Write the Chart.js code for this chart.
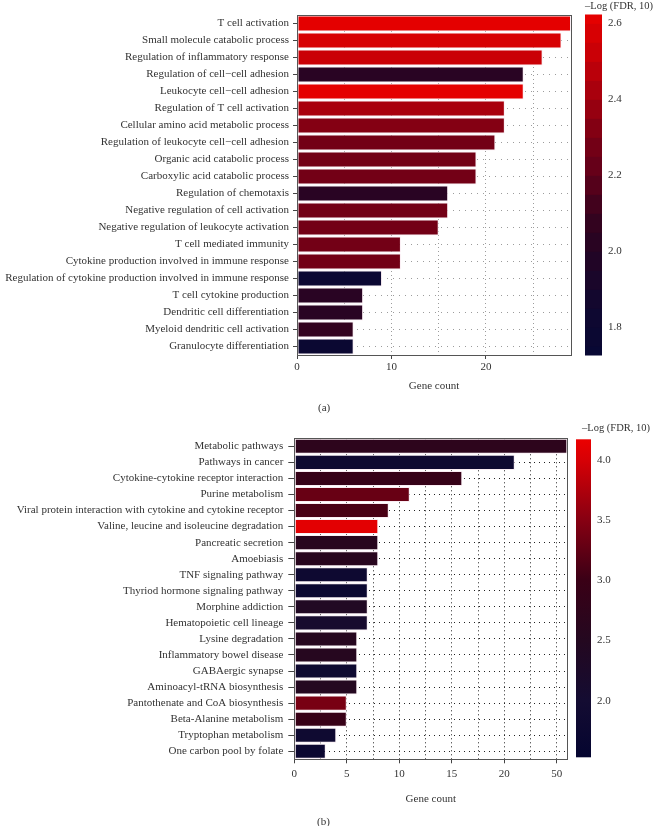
<!DOCTYPE html>
<html><head><meta charset="utf-8">
<script src="https://cdn.jsdelivr.net/npm/chart.js@4.4.1/dist/chart.umd.min.js"></script>
<style>
html,body{margin:0;padding:0;background:#fff;}
#wrap{position:relative;width:654px;height:826px;overflow:hidden;font-family:'Liberation Serif',serif;color:#333;}
canvas{position:absolute;}
.cap{position:absolute;font-size:10.5px;line-height:12px;color:#333;white-space:nowrap;}
</style></head><body><div id="wrap">
<canvas id="ca" width="575" height="400" style="left:0;top:0;width:575px;height:400px"></canvas>
<canvas id="cba" width="69" height="380" style="left:585px;top:0;width:69px;height:380px"></canvas>
<canvas id="cb" width="572" height="400" style="left:0;top:410px;width:572px;height:400px"></canvas>
<canvas id="cbb" width="78" height="380" style="left:576px;top:410px;width:78px;height:380px"></canvas>
<div class="cap" style="left:585px;top:0px;">–Log (FDR, 10)</div>
<div class="cap" style="left:582px;top:422px;">–Log (FDR, 10)</div>
<div class="cap" style="left:318px;top:401px;font-size:11px;">(a)</div>
<div class="cap" style="left:317px;top:815px;font-size:11px;">(b)</div>
</div>
<script>
// ---------- Panel (a): GO terms ----------
const categoriesA = [
  "T cell activation",
  "Small molecule catabolic process",
  "Regulation of inflammatory response",
  "Regulation of cell\u2212cell adhesion",
  "Leukocyte cell\u2212cell adhesion",
  "Regulation of T cell activation",
  "Cellular amino acid metabolic process",
  "Regulation of leukocyte cell\u2212cell adhesion",
  "Organic acid catabolic process",
  "Carboxylic acid catabolic process",
  "Regulation of chemotaxis",
  "Negative regulation of cell activation",
  "Negative regulation of leukocyte activation",
  "T cell mediated immunity",
  "Cytokine production involved in immune response",
  "Regulation of cytokine production involved in immune response",
  "T cell cytokine production",
  "Dendritic cell differentiation",
  "Myeloid dendritic cell activation",
  "Granulocyte differentiation"
];
const geneCountA = [29,28,26,24,24,22,22,21,19,19,16,16,15,11,11,9,7,7,6,6];
const logFdrA    = [2.60,2.58,2.52,2.02,2.60,2.42,2.34,2.28,2.30,2.30,2.00,2.30,2.30,2.30,2.30,1.78,2.05,2.05,2.08,1.78];
const xTickLabelsA = [0,10,20];
const xGridA = [0,5,10,15,20,25];
const colorTicksA = [1.8,2.0,2.2,2.4,2.6];
const colorRangeA = [1.727,2.622];

// ---------- Panel (b): KEGG pathways ----------
const categoriesB = [
  "Metabolic pathways",
  "Pathways in cancer",
  "Cytokine-cytokine receptor interaction",
  "Purine metabolism",
  "Viral protein interaction with cytokine and cytokine receptor",
  "Valine, leucine and isoleucine degradation",
  "Pancreatic secretion",
  "Amoebiasis",
  "TNF signaling pathway",
  "Thyriod hormone signaling pathway",
  "Morphine addiction",
  "Hematopoietic cell lineage",
  "Lysine degradation",
  "Inflammatory bowel disease",
  "GABAergic synapse",
  "Aminoacyl-tRNA biosynthesis",
  "Pantothenate and CoA biosynthesis",
  "Beta-Alanine metabolism",
  "Tryptophan metabolism",
  "One carbon pool by folate"
];
const geneCountB = [51,21,16,11,9,8,8,8,7,7,7,7,6,6,6,6,5,5,4,3];
const logFdrB    = [2.70,1.85,2.90,3.30,3.10,4.10,2.60,2.60,1.80,1.75,2.40,2.10,2.55,2.55,1.85,2.50,3.40,2.95,1.85,1.75];
const xTickValuesB = [0,5,10,15,20,50];
const colorTicksB = [2.0,2.5,3.0,3.5,4.0];
const colorRangeB = [1.53,4.17];

// broken x axis of panel (b): values from 50 upward are drawn 25 units lower
const BREAK_SHIFT = 25;
const toAxisB = v => v >= 50 ? v - BREAK_SHIFT : v;
const fromAxisB = p => p >= 25 ? p + BREAK_SHIFT : p;

// ---------- colour maps ----------
const stopsA = [[1.727,[8,8,52]],[1.85,[16,8,48]],[2.0,[36,5,36]],[2.1,[56,2,30]],[2.2,[95,0,26]],[2.3,[122,0,20]],[2.4,[160,0,15]],[2.5,[195,0,8]],[2.622,[228,0,0]]];
const stopsB = [[1.53,[5,5,48]],[2.0,[20,12,50]],[2.5,[36,8,32]],[3.0,[58,0,22]],[3.5,[135,0,18]],[4.0,[215,0,5]],[4.17,[235,0,0]]];
function interp(stops, v){
  if (v <= stops[0][0]) return stops[0][1];
  for (let i=1;i<stops.length;i++){
    if (v <= stops[i][0]){
      const [a,ca]=stops[i-1],[b,cb]=stops[i];const t=(v-a)/(b-a);
      return ca.map((c,k)=>Math.round(c+(cb[k]-c)*t));
    }
  }
  return stops[stops.length-1][1];
}
const rgb = c => `rgb(${c[0]},${c[1]},${c[2]})`;
const BAND = 0.05;
const colorA = v => { const lo=Math.floor(v/BAND)*BAND; return rgb(interp(stopsA, lo+BAND/2)); };
const colorB = v => rgb(interp(stopsB, v));

const FONT = {family:"'Liberation Serif', 'Times New Roman', serif", size:11};
const TXT = '#333';

const framePlugin = {id:'frame', afterDatasetsDraw(chart){
  const {ctx, chartArea:a} = chart; ctx.save(); ctx.strokeStyle='#555'; ctx.lineWidth=1;
  ctx.strokeRect(Math.round(a.left)+0.5, Math.round(a.top)+0.5, Math.round(a.right-a.left), Math.round(a.bottom-a.top)); ctx.restore();
}};

function barChart(id, cats, vals, fdr, colorFn, opt){
  return new Chart(document.getElementById(id), {
    type:'bar',
    data:{labels:cats, datasets:[{data:vals, backgroundColor:fdr.map(colorFn), borderColor:'rgba(250,236,242,0.95)', borderWidth:1, borderSkipped:false, barPercentage:0.94, categoryPercentage:1}]},
    options:{
      indexAxis:'y', responsive:false, animation:false, devicePixelRatio:1,
      layout:{padding:opt.padding},
      plugins:{legend:{display:false}, tooltip:{enabled:false}},
      scales:{
        x:{min:0, max:opt.xmax,
          afterBuildTicks:s=>{s.ticks = opt.xGrid.map(v=>({value:v}));},
          ticks:{autoSkip:false, maxRotation:0, font:FONT, color:TXT, padding:opt.xPad, callback:opt.xLabel},
          grid:{color:opt.gridColor, lineWidth:1, tickLength:4, tickColor:c=> (c.tick && opt.xLabel(c.tick.value)!=='') ? '#444':'rgba(0,0,0,0)'},
          border:{display:false, dash:opt.xDash},
          title:{display:true, text:'Gene count', font:FONT, color:TXT, padding:{top:4,bottom:opt.titleBottom}},
          afterFit:s=>{s.height = opt.xHeight;}
        },
        y:{ticks:{autoSkip:false, font:FONT, color:TXT, padding:opt.yPad},
          grid:{offset:false, color:opt.gridColor, lineWidth:1, tickLength:opt.yTick, tickColor:'#444'},
          border:{display:false, dash:opt.yDash},
          afterFit:s=>{s.width = opt.yWidth;}
        }
      }
    },
    plugins:[framePlugin]
  });
}

barChart('ca', categoriesA, geneCountA, logFdrA, colorA, {
  padding:{top:15,right:4,left:0,bottom:0}, xmax:29, xGrid:xGridA,
  xLabel:v=> xTickLabelsA.includes(v) ? String(v) : '',
  xPad:2, gridColor:'#9c9c9c', xDash:[1,3], yDash:[1,5], xHeight:45, titleBottom:7.5, yPad:4, yTick:4, yWidth:297
});

const xGridB = [0,2.5,5,7.5,10,12.5,15,17.5,20,22.5,25];
barChart('cb', categoriesB, geneCountB.map(toAxisB), logFdrB, colorB, {
  padding:{top:28.3,right:4.7,left:0,bottom:0}, xmax:toAxisB(51), xGrid:xGridB,
  xLabel:v=> xTickValuesB.includes(fromAxisB(v)) ? String(fromAxisB(v)) : '',
  xPad:4, gridColor:'#222', xDash:[1,3], yDash:[1,4], xHeight:50.7, titleBottom:4, yPad:5, yTick:6, yWidth:294.3
});

// ---------- colour bars ----------
function colorbar(id, range, ticks, stops, stepped, pad, barW, canvasW){
  const plug = {id:'cbar', beforeDatasetsDraw(chart){
    const {ctx, chartArea:a, scales:{y}} = chart;
    ctx.save();
    if (stepped){
      for (let lo=Math.floor(range[0]/BAND)*BAND; lo<range[1]; lo+=BAND){
        const hi=lo+BAND;
        const top=y.getPixelForValue(Math.min(hi,range[1])), bot=y.getPixelForValue(Math.max(lo,range[0]));
        ctx.fillStyle=rgb(interp(stops, lo+BAND/2));
        ctx.fillRect(a.left, top-0.5, a.right-a.left, bot-top+1);
      }
    } else {
      const g = ctx.createLinearGradient(0, a.bottom, 0, a.top);
      stops.forEach(([v,c])=>{ const t=(v-range[0])/(range[1]-range[0]); g.addColorStop(Math.min(1,Math.max(0,t)), rgb(c)); });
      ctx.fillStyle=g; ctx.fillRect(a.left, a.top, a.right-a.left, a.bottom-a.top);
    }
    ctx.restore();
  }};
  return new Chart(document.getElementById(id), {
    type:'bar', data:{labels:[''], datasets:[{data:[]}]},
    options:{responsive:false, animation:false, devicePixelRatio:1,
      layout:{padding:pad},
      plugins:{legend:{display:false}, tooltip:{enabled:false}},
      scales:{
        x:{display:false},
        y:{position:'right', min:range[0], max:range[1], z:1,
          afterBuildTicks:s=>{s.ticks = ticks.map(v=>({value:v}));},
          ticks:{font:FONT, color:TXT, padding:6, callback:v=>Number(v).toFixed(1)},
          grid:{drawTicks:false, color:'rgba(255,200,225,0.85)', lineWidth:1},
          border:{display:false, dash:[4, barW-8]},
          afterFit:s=>{s.width = canvasW - barW;}
        }
      }
    },
    plugins:[plug]
  });
}
colorbar('cba', colorRangeA, colorTicksA, stopsA, true, {top:15,bottom:25,left:0,right:0}, 17, 69);
colorbar('cbb', colorRangeB, colorTicksB, stopsB, false, {top:29.3,bottom:32.7,left:0,right:0}, 15, 78);
</script>
</body></html>
